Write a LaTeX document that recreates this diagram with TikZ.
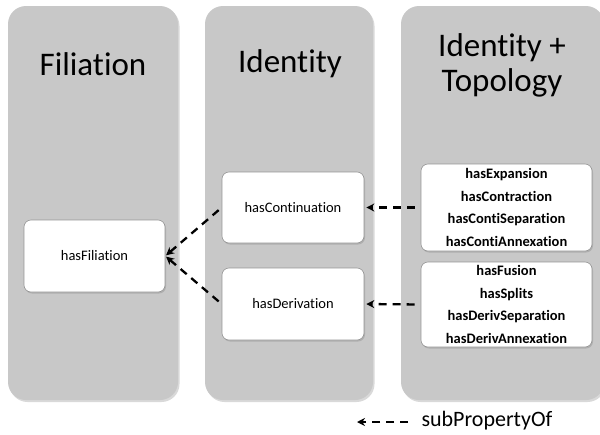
\documentclass[tikz,border=0pt]{standalone}
\usepackage{fontspec}
\setmainfont{Carlito}[Ligatures=NoCommon]
\usepackage{tikz}
\usetikzlibrary{arrows.meta}
\usetikzlibrary{shadows}
\definecolor{panelgray}{RGB}{200,200,200}
\definecolor{boxline}{RGB}{150,150,150}

\begin{document}
\begin{tikzpicture}[x=1pt, y=-1pt,
  panel/.style = {fill=panelgray, rounded corners=18pt,
    drop shadow={shadow xshift=1.5pt, shadow yshift=-2pt, opacity=.3}},
  prop/.style = {draw=boxline, fill=white, rounded corners=7pt, line width=.6pt,
    drop shadow={shadow xshift=1pt, shadow yshift=-1.5pt, opacity=.35},
    font=\fontsize{14.5}{17}\selectfont, inner sep=0pt},
  subs/.style = {prop, minimum width=171pt, align=center,
    font=\bfseries\fontsize{14.5}{22.5}\selectfont},
  title/.style = {font=\fontsize{33}{36}\selectfont, align=center},
  subprop/.style = {line width=2.3pt, dash pattern=on 8pt off 6pt,
    -{Stealth[length=8pt, width=8pt]}}]
\useasboundingbox (0,0) rectangle (600,434);
\path[panel] (8,6) rectangle (178,400);
\path[panel] (205,6) rectangle (373,400);
\path[panel] (401,6) rectangle (604,400);
\node[title] (tfil) at (93,64) {Filiation};
\node[title] (tide) at (290,64) {Identity};
\node[title, font=\fontsize{33}{35}\selectfont] (ttop) at (502,65) {Identity +\\Topology};
\node[prop, minimum width=141pt, minimum height=72pt] (fil) at (94.5,256) {hasFiliation};
\node[prop, minimum width=142pt, minimum height=71pt] (cont) at (293,207.5) {hasContinuation};
\node[prop, minimum width=142pt, minimum height=72pt] (der) at (293,304) {hasDerivation};
\node[subs, minimum height=87pt] (topa) at (506.5,207.5)
  {hasExpansion\\hasContraction\\hasContiSeparation\\hasContiAnnexation};
\node[subs, minimum height=85pt] (topb) at (506.5,304.5)
  {hasFusion\\hasSplits\\hasDerivSeparation\\hasDerivAnnexation};
\draw[subprop, shorten <=4pt, shorten >=1pt] (cont.west) -- (fil.east);
\draw[subprop, shorten <=4pt, shorten >=1pt] (der.west) -- (fil.east);
\draw[subprop, shorten <=6pt, shorten >=2pt] (topa.west) -- (cont.east);
\draw[subprop, shorten <=6pt, shorten >=2pt] (topb.west) -- (der.east);
\node[font=\fontsize{22}{24}\selectfont, anchor=west] (leg) at (418,421) {subPropertyOf};
\coordinate (legtip) at (357,422);
\draw[subprop, shorten <=10pt] (leg.west |- legtip) -- (legtip);
\end{tikzpicture}
\end{document}
